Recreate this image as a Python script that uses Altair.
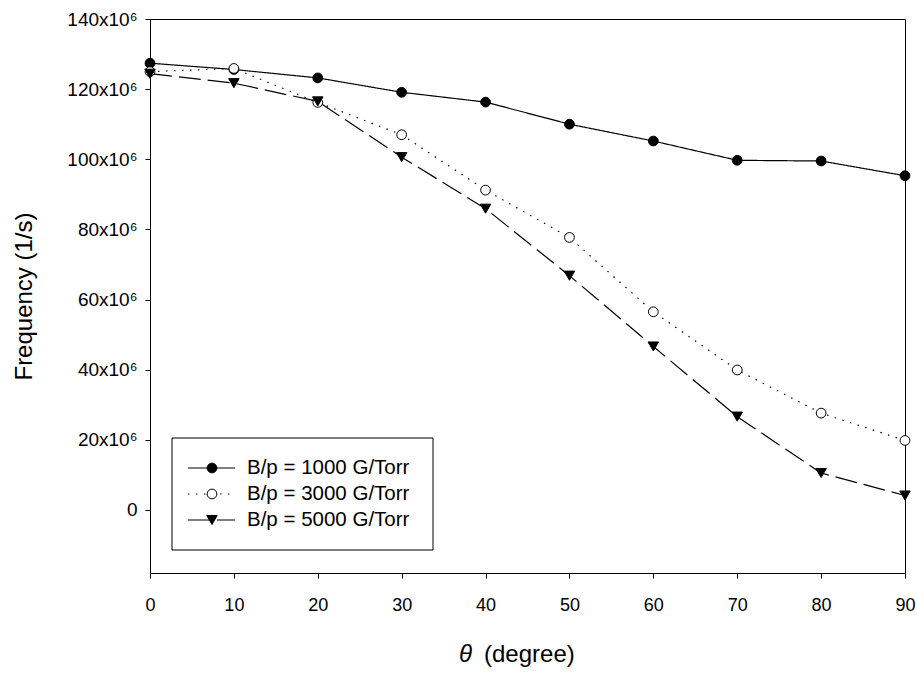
import altair as alt
import pandas as pd

# Angle (degree)
theta = [0, 10, 20, 30, 40, 50, 60, 70, 80, 90]
# Frequency in units of 10^6 1/s
f1000 = [127.4, 125.6, 123.2, 119.1, 116.3, 110.0, 105.2, 99.7, 99.5, 95.3]
f3000 = [125.0, 125.9, 116.2, 107.0, 91.2, 77.7, 56.5, 39.9, 27.6, 19.8]
f5000 = [124.4, 121.7, 116.5, 100.6, 85.9, 66.8, 46.6, 26.6, 10.5, 4.1]
labels = ["B/p = 1000 G/Torr", "B/p = 3000 G/Torr", "B/p = 5000 G/Torr"]
y_ticks = [0, 20, 40, 60, 80, 100, 120, 140]
x_ticks = [0, 10, 20, 30, 40, 50, 60, 70, 80, 90]
x_title_sym = "θ"
x_title_rest = "(degree)"

FONT = "Liberation Sans"

series_vals = [f1000, f3000, f5000]
dashes = [[1, 0], [1.5, 6.5], [22, 7]]
shapes = ["circle", "circle", "triangle-down"]
fills = ["black", "white", "black"]
sizes = [95, 95, 110]

xs = alt.Scale(domain=[0, 90], nice=False, zero=False)
ys = alt.Scale(domain=[-18, 140], nice=False, zero=False)

x_axis = alt.Axis(values=x_ticks, title=None, labelFontSize=18,
                  labelPadding=18, tickSize=5, grid=False, labelFlush=False)
y_axis = alt.Axis(values=y_ticks, title="Frequency (1/s)", labelFontSize=19,
                  titleFontSize=24, labelPadding=8, titlePadding=30,
                  tickSize=5, grid=False, labelFlush=False,
                  labelExpr="datum.value === 0 ? '0' : datum.value + 'x10⁶'")

layers = []
leg_rows = [449, 475, 501]

legend_box = alt.Chart(pd.DataFrame({"a": [0]})).mark_rect(
    fill="white", stroke="black", strokeWidth=1
).encode(x=alt.value(22), x2=alt.value(283), y=alt.value(419), y2=alt.value(531))

for i, vals in enumerate(series_vals):
    df = pd.DataFrame({"theta": theta, "freq": vals, "series": labels[i]})
    line = alt.Chart(df).mark_line(color="black", strokeWidth=1.2,
                                   strokeDash=dashes[i]).encode(
        x=alt.X("theta:Q", scale=xs, axis=x_axis),
        y=alt.Y("freq:Q", scale=ys, axis=y_axis),
    )
    layers.append(line)

for i, vals in enumerate(series_vals):
    df = pd.DataFrame({"theta": theta, "freq": vals, "series": labels[i]})
    pts = alt.Chart(df).mark_point(
        shape=shapes[i], filled=True, fill=fills[i], stroke="black",
        strokeWidth=1, size=sizes[i], opacity=1
    ).encode(
        x=alt.X("theta:Q", scale=xs, axis=x_axis),
        y=alt.Y("freq:Q", scale=ys, axis=y_axis),
    )
    layers.append(pts)

layers.append(legend_box)

for i in range(3):
    ldf = pd.DataFrame({"label": [labels[i]]})
    lb = alt.Chart(ldf)
    layers.append(lb.mark_rule(color="black", strokeWidth=1.2,
                               strokeDash=dashes[i]).encode(
        x=alt.value(38), x2=alt.value(85), y=alt.value(leg_rows[i])))
    layers.append(lb.mark_point(shape=shapes[i], filled=True, fill=fills[i],
                                stroke="black", strokeWidth=1,
                                size=sizes[i], opacity=1).encode(
        x=alt.value(62), y=alt.value(leg_rows[i])))
    layers.append(lb.mark_text(align="left", baseline="middle", fontSize=20.5,
                               font=FONT, color="black").encode(
        x=alt.value(97), y=alt.value(leg_rows[i]), text="label:N"))

# x-axis title: italic theta + regular text
tdf = pd.DataFrame({"sym": [x_title_sym], "rest": [x_title_rest]})
tb = alt.Chart(tdf)
layers.append(tb.mark_text(align="left", baseline="middle", fontSize=24,
                           font=FONT, fontStyle="italic", color="black").encode(
    x=alt.value(309), y=alt.value(636), text="sym:N"))
layers.append(tb.mark_text(align="left", baseline="middle", fontSize=24,
                           font=FONT, color="black").encode(
    x=alt.value(334), y=alt.value(636), text="rest:N"))

chart = alt.layer(*layers).properties(
    width=755, height=554,
    autosize=alt.AutoSizeParams(type="none"),
    padding={"left": 150, "top": 19, "right": 12, "bottom": 100},
    background="white",
).configure_view(
    stroke="black", strokeWidth=1
).configure_axis(
    domainColor="black", tickColor="black", labelColor="black",
    titleColor="black", labelFont=FONT, titleFont=FONT,
    titleFontWeight="normal", domainWidth=1, tickWidth=1
)

chart.save("out.html", embed_options={"renderer": "svg", "actions": False})
